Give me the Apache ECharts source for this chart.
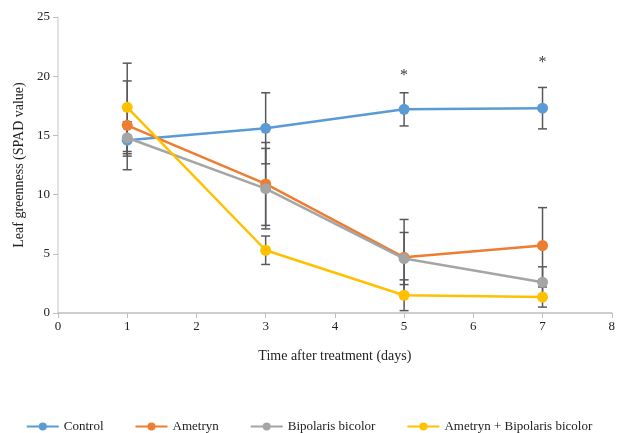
<!DOCTYPE html>
<html>
<head>
<meta charset="utf-8">
<script src="https://cdn.jsdelivr.net/npm/echarts@6/dist/echarts.min.js"></script>
<style>html,body{margin:0;padding:0;background:#fff;}#chart{width:618px;height:433px;}</style>
</head>
<body>
<div id="chart"></div>
<script>
var days = [1, 3, 5, 7];
var seriesNames = ['Control', 'Ametryn', 'Bipolaris bicolor', 'Ametryn + Bipolaris bicolor'];
var control = [14.6, 15.6, 17.2, 17.3];
var ametryn = [15.85, 10.9, 4.7, 5.7];
var bipolaris = [14.8, 10.5, 4.6, 2.6];
var combo = [17.37, 5.3, 1.5, 1.35];
var controlErr = [1.35, 3.0, 1.4, 1.75];
var ametrynErr = [3.75, 3.5, 3.2, 3.2];
var bipolarisErr = [1.35, 3.4, 2.2, 1.3];
var comboErr = [3.73, 1.2, 1.3, 0.85];
var starDays = [5, 7];
var starValues = [20.0, 21.1];
var xTicks = [0, 1, 2, 3, 4, 5, 6, 7, 8];
var yTicks = [0, 5, 10, 15, 20, 25];

var colors = ['#5B9BD5', '#ED7D31', '#A5A5A5', '#FFC000'];
var values = [control, ametryn, bipolaris, combo];
var errs = [controlErr, ametrynErr, bipolarisErr, comboErr];
var font = 'Liberation Serif';

var series = [];
values.forEach(function (vals, i) {
  series.push({
    name: 'err' + i,
    type: 'custom',
    z: 1,
    silent: true,
    data: days.map(function (d, j) { return [d, vals[j] - errs[i][j], vals[j] + errs[i][j]]; }),
    encode: { x: 0, y: [1, 2] },
    renderItem: function (params, api) {
      var lo = api.coord([api.value(0), api.value(1)]);
      var hi = api.coord([api.value(0), api.value(2)]);
      var w = 4.5;
      var st = { stroke: '#595959', lineWidth: 1.5 };
      return { type: 'group', children: [
        { type: 'line', shape: { x1: lo[0], y1: lo[1], x2: hi[0], y2: hi[1] }, style: st },
        { type: 'line', shape: { x1: lo[0] - w, y1: lo[1], x2: lo[0] + w, y2: lo[1] }, style: st },
        { type: 'line', shape: { x1: hi[0] - w, y1: hi[1], x2: hi[0] + w, y2: hi[1] }, style: st }
      ]};
    }
  });
});
values.forEach(function (vals, i) {
  series.push({
    name: seriesNames[i],
    type: 'line',
    z: 3 + i,
    data: days.map(function (d, j) { return [d, vals[j]]; }),
    symbol: 'circle',
    symbolSize: 11,
    lineStyle: { width: 2.5, color: colors[i] },
    itemStyle: { color: colors[i] }
  });
});
series.push({
  name: 'stars',
  type: 'scatter',
  z: 10,
  symbolSize: 0,
  data: starDays.map(function (d, j) { return [d, starValues[j]]; }),
  label: { show: true, position: 'inside', formatter: '*', fontFamily: font, fontSize: 16, color: '#000' }
});

var chart = echarts.init(document.getElementById('chart'));
chart.setOption({
  animation: false,
  backgroundColor: '#fff',
  color: colors,
  grid: { left: 58, right: 4, top: 17, bottom: 120 },
  xAxis: {
    type: 'value', min: xTicks[0], max: xTicks[xTicks.length - 1], interval: 1,
    name: 'Time after treatment (days)', nameLocation: 'middle', nameGap: 36,
    nameTextStyle: { fontFamily: font, fontSize: 14, color: '#222' },
    axisLine: { lineStyle: { color: '#BFBFBF', width: 1.5 } },
    axisTick: { show: true, length: 5, lineStyle: { color: '#BFBFBF' } },
    axisLabel: { fontFamily: font, fontSize: 13, color: '#222', margin: 7 },
    splitLine: { show: false }
  },
  yAxis: {
    type: 'value', min: yTicks[0], max: yTicks[yTicks.length - 1], interval: 5,
    name: 'Leaf greenness (SPAD value)', nameLocation: 'middle', nameGap: 32,
    nameTextStyle: { fontFamily: font, fontSize: 14, color: '#222' },
    axisLine: { show: true, lineStyle: { color: '#D9D9D9', width: 1.5 } },
    axisTick: { show: true, length: 5, lineStyle: { color: '#BFBFBF' } },
    axisLabel: { fontFamily: font, fontSize: 13, color: '#222', margin: 8 },
    splitLine: { show: false }
  },
  legend: {
    data: seriesNames,
    top: 415,
    left: 'center',
    itemWidth: 32,
    itemHeight: 10,
    itemGap: 31,
    textStyle: { fontFamily: font, fontSize: 13, color: '#222' }
  },
  series: series
});
</script>
</body>
</html>
